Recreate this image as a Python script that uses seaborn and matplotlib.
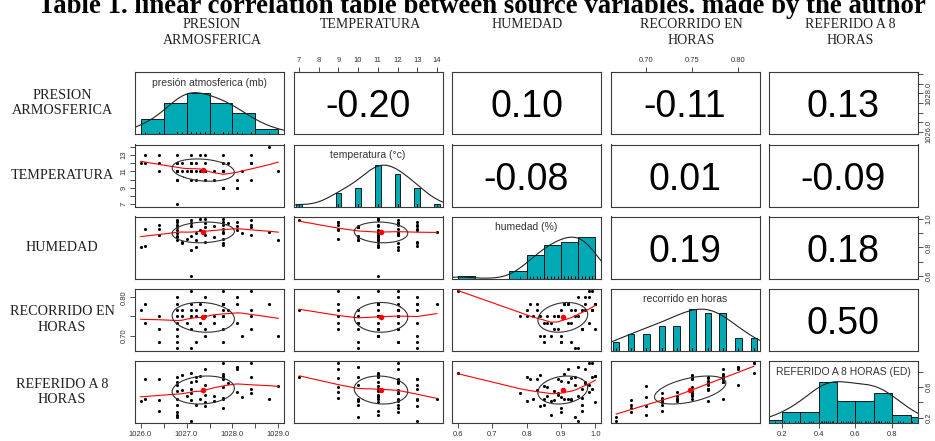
import numpy as np
import pandas as pd
import matplotlib
matplotlib.use("Agg")
import matplotlib.pyplot as plt
import seaborn as sns

# ---------------------------------------------------------------- data
presion = [1026.0, 1026.1, 1026.1, 1026.4, 1026.4, 1026.4, 1026.8, 1026.8, 1026.8, 1026.8,
           1026.8, 1026.8, 1026.8, 1026.8, 1026.8, 1026.9, 1026.9, 1027.0, 1027.1, 1027.1,
           1027.1, 1027.1, 1027.1, 1027.1, 1027.2, 1027.2, 1027.2, 1027.3, 1027.3, 1027.4,
           1027.4, 1027.4, 1027.4, 1027.4, 1027.6, 1027.6, 1027.8, 1027.8, 1027.8, 1027.8,
           1027.8, 1027.8, 1027.8, 1027.8, 1027.8, 1027.9, 1028.1, 1028.1, 1028.1, 1028.2,
           1028.4, 1028.4, 1028.4, 1028.4, 1028.8, 1029.0]
temperatura = [12, 13, 12, 13, 12, 11, 13, 11, 11, 10,
               12, 7, 12, 11, 10, 11, 12, 11, 12, 12,
               11, 10, 13, 11, 12, 11, 10, 11, 13, 12,
               11, 11, 10, 13, 11, 10, 9, 11, 9, 9,
               9, 11, 12, 13, 11, 12, 9, 10, 9, 11,
               12, 10, 12, 13, 14, 11]
humedad = [0.80, 0.81, 0.93, 0.93, 0.89, 0.96, 0.98, 0.92, 0.88, 0.85, 0.90, 0.99, 0.96, 0.87,
           0.94, 0.84, 0.83, 0.86, 0.97, 0.78, 0.60, 0.88, 0.95, 0.99, 0.90, 0.80, 0.85, 1.00,
           0.92, 0.97, 0.89, 1.00, 0.94, 0.84, 0.95, 0.87, 0.98, 0.91, 0.93, 0.86, 0.96, 1.00,
           0.90, 0.83, 0.82, 0.97, 0.92, 0.95, 0.98, 0.90, 0.99, 0.94, 0.89, 0.96, 0.91, 0.85]
recorrido = [0.767, 0.783, 0.733, 0.683, 0.750, 0.717, 0.800, 0.783, 0.750, 0.733, 0.683, 0.767,
             0.717, 0.700, 0.667, 0.750, 0.767, 0.733, 0.783, 0.750, 0.817, 0.717, 0.667, 0.767,
             0.767, 0.750, 0.683, 0.783, 0.733, 0.800, 0.750, 0.717, 0.767, 0.700, 0.750, 0.733,
             0.817, 0.783, 0.767, 0.750, 0.717, 0.783, 0.683, 0.783, 0.750, 0.767, 0.783, 0.800,
             0.733, 0.700, 0.817, 0.750, 0.717, 0.767, 0.783, 0.700]
referido = [0.42, 0.70, 0.44, 0.43, 0.71, 0.29, 0.62, 0.67, 0.55, 0.45, 0.27, 0.73, 0.36, 0.24,
            0.21, 0.76, 0.56, 0.48, 0.66, 0.52, 0.78, 0.43, 0.16, 0.57, 0.68, 0.73, 0.37, 0.74,
            0.45, 0.84, 0.50, 0.41, 0.63, 0.35, 0.48, 0.42, 0.91, 0.77, 0.72, 0.60, 0.46, 0.74,
            0.32, 0.71, 0.44, 0.65, 0.83, 0.86, 0.53, 0.47, 0.91, 0.73, 0.52, 0.58, 0.44, 0.61]

variables = ["presion", "temperatura", "humedad", "recorrido", "referido"]
headers = ["PRESION\nARMOSFERICA", "TEMPERATURA", "HUMEDAD", "RECORRIDO EN\nHORAS",
           "REFERIDO A 8\nHORAS"]
diag_titles = ["presión atmosferica (mb)", "temperatura (°c)", "humedad (%)",
               "recorrido en horas", "REFERIDO A 8 HORAS (ED)"]

# Pearson r for each pair (upper triangle, row by row)
pair_r = [-0.20, 0.10, -0.11, 0.13, -0.08, 0.01, -0.09, 0.19, 0.18, 0.50]

# histogram class widths (Sturges classes on a pretty grid)
hist_width = {"presion": 0.5, "humedad": 0.05, "referido": 0.1}

# outer axis ticks
presion_ticks = [1026.0, 1026.5, 1027.0, 1027.5, 1028.0, 1028.5, 1029.0]
presion_bottom_labels = ["1026.0", "", "1027.0", "", "1028.0", "", "1029.0"]
presion_right_labels = ["1026.0", "", "", "", "1028.0", "", ""]
temp_ticks = [7, 8, 9, 10, 11, 12, 13, 14]
temp_top_labels = ["7", "8", "9", "10", "11", "12", "13", "14"]
temp_left_labels = ["7", "", "9", "", "11", "", "13", ""]
hum_ticks = [0.6, 0.7, 0.8, 0.9, 1.0]
hum_bottom_labels = ["0.6", "0.7", "0.8", "0.9", "1.0"]
hum_right_labels = ["0.6", "", "0.8", "", "1.0"]
rec_ticks = [0.70, 0.75, 0.80]
rec_top_labels = ["0.70", "0.75", "0.80"]
rec_left_labels = ["0.70", "", "0.80"]
ref_ticks = [0.2, 0.4, 0.6, 0.8]
ref_bottom_labels = ["0.2", "0.4", "0.6", "0.8"]
ref_right_labels = ["0.2", "", "0.6", ""]

title = "Table 1. linear correlation table between source variables. made by the author"

df = pd.DataFrame({"presion": presion, "temperatura": temperatura, "humedad": humedad,
                   "recorrido": recorrido, "referido": referido})

# ---------------------------------------------------------------- helpers
HIST = "#00AAB5"
FRAME = "#3a3a3a"
TICK = "#333333"


def padded_range(v):
    lo, hi = float(np.min(v)), float(np.max(v))
    d = 0.04 * (hi - lo)
    return lo - d, hi + d


def lowess(x, y, f=2 / 3, iters=3):
    o = np.argsort(x, kind="stable")
    x = np.asarray(x, float)[o]
    y = np.asarray(y, float)[o]
    n = len(x)
    ns = max(min(int(f * n + 1e-7), n), 2)
    rw = np.ones(n)
    fit = np.zeros(n)
    span = x[-1] - x[0]
    for it in range(iters + 1):
        for i in range(n):
            d = np.abs(x - x[i])
            h = np.sort(d)[ns - 1]
            if h > 0:
                u = d / h
                w = np.where(u <= 0.999, (1 - u ** 3) ** 3, 0.0)
            else:
                w = (d == 0).astype(float)
            w = w * rw
            sw = w.sum()
            if sw <= 0:
                fit[i] = y[i]
                continue
            w = w / sw
            xm = (w * x).sum()
            ym = (w * y).sum()
            c = (w * (x - xm) ** 2).sum()
            if np.sqrt(c) > 0.001 * span:
                b = (w * (x - xm) * (y - ym)).sum() / c
                fit[i] = ym + b * (x[i] - xm)
            else:
                fit[i] = ym
        if it == iters:
            break
        res = y - fit
        cmad = 6 * np.median(np.abs(res))
        if cmad < 1e-7 * np.mean(np.abs(y)):
            break
        r = np.abs(res / cmad)
        rw = np.where(r < 0.001, 1.0, np.where(r > 0.999, 0.0, (1 - r ** 2) ** 2))
    return x, fit


def density_curve(v):
    v = np.asarray(v, float)
    n = len(v)
    q1, q3 = np.percentile(v, [25, 75])
    bw = 1.06 * min(np.std(v, ddof=1), (q3 - q1) / 1.34) * n ** -0.2 * 1.2
    grid = np.linspace(v.min() - 3 * bw, v.max() + 3 * bw, 512)
    d = np.exp(-0.5 * ((grid[:, None] - v[None, :]) / bw) ** 2).sum(axis=1)
    return grid, d / d.max()


def ellipse_path(xm, ym, xs, ys, r, segments=51):
    ang = np.arange(segments + 1) * 2 * np.pi / segments
    th = (np.sign(r) if r != 0 else 1.0) / np.sqrt(2)
    a = np.cos(ang) * np.sqrt(1 + r)
    b = np.sin(ang) * np.sqrt(1 - r)
    ex = (a * th - b * th) * xs + xm
    ey = (a * th + b * th) * ys + ym
    return ex, ey


def frame(ax):
    for s in ax.spines.values():
        s.set_visible(True)
        s.set_color(FRAME)
        s.set_linewidth(0.8)
    ax.set_xticks([])
    ax.set_yticks([])
    ax.set(xlabel="", ylabel="")


def outer_x(ax, side, ticks, labels):
    ax.set_xticks(ticks, labels=labels)
    ax.xaxis.set_ticks_position(side)
    ax.tick_params(axis="x", which="major", bottom=(side == "bottom"), top=(side == "top"),
                   labelbottom=(side == "bottom"), labeltop=(side == "top"),
                   length=3.5, width=0.6, color=TICK, labelsize=5.5, pad=2,
                   labelcolor=TICK)


def outer_y(ax, side, ticks, labels):
    ax.set_yticks(ticks, labels=labels)
    ax.yaxis.set_ticks_position(side)
    ax.tick_params(axis="y", which="major", left=(side == "left"), right=(side == "right"),
                   labelleft=(side == "left"), labelright=(side == "right"),
                   length=3.5, width=0.6, color=TICK, labelsize=5.5, pad=2,
                   labelcolor=TICK, labelrotation=90)
    for lab in ax.get_yticklabels():
        lab.set_va("center")


# ---------------------------------------------------------------- figure
sns.set_theme(style="white")
plt.rcParams["font.family"] = ["Liberation Sans", "DejaVu Sans"]

W, H = 935, 441
fig = plt.figure(figsize=(W / 100, H / 100), dpi=100)

col_left = [135, 293.5, 452, 610.5, 769]
col_w = 149
row_top = [72, 144.5, 216.5, 288.5, 361]
row_h = 62
header_x = [212, 370, 527, 691, 850]

lims = {v: padded_range(df[v]) for v in variables}
stats = {v: (df[v].mean(), df[v].std()) for v in variables}

r_lookup = {}
k = 0
for i in range(5):
    for j in range(i + 1, 5):
        r_lookup[(i, j)] = pair_r[k]
        r_lookup[(j, i)] = pair_r[k]
        k += 1

axes = {}
for i, rv in enumerate(variables):
    for j, cv in enumerate(variables):
        ax = fig.add_axes([col_left[j] / W, 1 - (row_top[i] + row_h) / H, col_w / W, row_h / H])
        axes[(i, j)] = ax
        ax.set_facecolor("white")
        x = df[cv].to_numpy(float)
        y = df[rv].to_numpy(float)
        if i == j:
            # histogram + density + rug
            vals, cnt = np.unique(x, return_counts=True)
            if len(vals) < 11:
                sns.barplot(x=vals, y=cnt / cnt.max(), native_scale=True,
                            width=2 * (len(vals) - 1) / 41, color=HIST, saturation=1,
                            edgecolor="black", linewidth=0.6, errorbar=None, ax=ax)
            else:
                w = hist_width[cv]
                k0 = int(np.floor(x.min() / w + 1e-9))
                k1 = int(np.ceil(x.max() / w - 1e-9))
                edges = np.arange(k0, k1 + 1) * w
                edges = edges + w * 1e-6
                edges[0] -= 2 * w * 1e-6
                counts, _ = np.histogram(x, bins=edges)
                hdf = pd.DataFrame({"v": x, "wt": np.full(len(x), 1 / counts.max())})
                sns.histplot(data=hdf, x="v", weights="wt", bins=edges.tolist(),
                             stat="count", color=HIST, alpha=1, edgecolor="black",
                             linewidth=0.6, ax=ax)
            gx, gy = density_curve(x)
            sns.lineplot(x=gx, y=gy, color="#222222", linewidth=0.8, estimator=None,
                         sort=False, ax=ax)
            sns.rugplot(x=x, height=0.035, color="black", linewidth=0.5,
                        expand_margins=False, ax=ax)
            ax.set_xlim(*lims[cv])
            ax.set_ylim(0, 1.5)
            frame(ax)
            ax.text(0.5, 0.83, diag_titles[i], transform=ax.transAxes, ha="center",
                    va="center", fontsize=7.5, color="#333333")
        elif j > i:
            ax.set_xlim(*lims[cv])
            ax.set_ylim(*lims[rv])
            frame(ax)
            ax.text(0.5, 0.43, f"{r_lookup[(i, j)]:.2f}", transform=ax.transAxes,
                    ha="center", va="center", fontsize=27, color="black")
        else:
            sns.scatterplot(x=x, y=y, s=5, color="black", linewidth=0, ax=ax)
            lx, ly = lowess(x, y)
            sns.lineplot(x=lx, y=ly, color="red", linewidth=0.8, estimator=None,
                         sort=False, ax=ax)
            xm, xs = stats[cv]
            ym, ys = stats[rv]
            ex, ey = ellipse_path(xm, ym, xs, ys, r_lookup[(i, j)])
            sns.lineplot(x=ex, y=ey, color="#333333", linewidth=0.8, estimator=None,
                         sort=False, ax=ax)
            sns.scatterplot(x=[xm], y=[ym], s=16, color="red", linewidth=0, ax=ax)
            ax.set_xlim(*lims[cv])
            ax.set_ylim(*lims[rv])
            frame(ax)

# outer axes, alternating sides
outer_x(axes[(0, 1)], "top", temp_ticks, temp_top_labels)
outer_x(axes[(0, 3)], "top", rec_ticks, rec_top_labels)
outer_x(axes[(4, 0)], "bottom", presion_ticks, presion_bottom_labels)
outer_x(axes[(4, 2)], "bottom", hum_ticks, hum_bottom_labels)
outer_x(axes[(4, 4)], "bottom", ref_ticks, ref_bottom_labels)
outer_y(axes[(1, 0)], "left", temp_ticks, temp_left_labels)
outer_y(axes[(3, 0)], "left", rec_ticks, rec_left_labels)
outer_y(axes[(0, 4)], "right", presion_ticks, presion_right_labels)
outer_y(axes[(2, 4)], "right", hum_ticks, hum_right_labels)
twin = axes[(4, 4)].twinx()
twin.set_ylim(*lims["referido"])
for s in twin.spines.values():
    s.set_visible(False)
outer_y(twin, "right", ref_ticks, ref_right_labels)

# header and row labels
serif = ["Liberation Serif", "DejaVu Serif"]
for j, txt in enumerate(headers):
    fig.text(header_x[j] / W, 1 - 17.5 / H, txt, ha="center", va="top",
             fontsize=10, family=serif, color="#222222", linespacing=1.3)
for i, txt in enumerate(headers):
    fig.text(62 / W, 1 - (row_top[i] + row_h / 2) / H, txt, ha="center", va="center",
             fontsize=10.2, family=serif, color="#222222", linespacing=1.25)

fig.text(482 / W, 1 - 13 / H, title, ha="center", va="baseline", fontsize=19.3,
         fontweight="bold", family=serif, color="black")

fig.savefig("out.png", dpi=100)
